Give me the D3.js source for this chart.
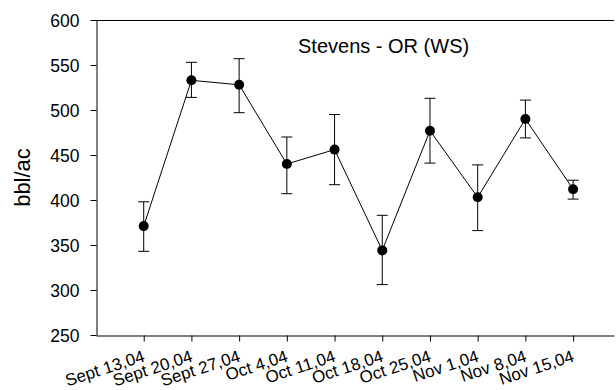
<!DOCTYPE html>
<html>
<head>
<meta charset="utf-8">
<script src="https://cdnjs.cloudflare.com/ajax/libs/d3/7.8.5/d3.min.js"></script>
<style>
  body { margin: 0; background: #fff; }
  text { font-family: "Liberation Sans", Arial, sans-serif; fill: #000; }
</style>
</head>
<body>
<div class="chart"></div>
<script>
var labels = ["Sept 13,04", "Sept 20,04", "Sept 27,04", "Oct 4,04", "Oct 11,04",
              "Oct 18,04", "Oct 25,04", "Nov 1,04", "Nov 8,04", "Nov 15,04"];
var dates = ["2004-09-13", "2004-09-20", "2004-09-27", "2004-10-04", "2004-10-11",
             "2004-10-18", "2004-10-25", "2004-11-01", "2004-11-08", "2004-11-15"];
var means = [371, 533, 528, 440, 456, 344, 477, 403, 490, 412];
var upper = [398, 553, 557, 470, 495, 383, 513, 439, 511, 422];
var lower = [343, 514, 497, 407, 417, 306, 441, 366, 469, 401];
var yTicks = [250, 300, 350, 400, 450, 500, 550, 600];

var parse = d3.timeParse("%Y-%m-%d");
var data = dates.map(function(d, i) {
    return { date: parse(d), label: labels[i], mean: means[i], hi: upper[i], lo: lower[i] };
});

var pLeft = 96, pRight = 614, pTop = 20, pBottom = 335;

var svg = d3.select(".chart")
    .append("svg")
    .attr("width", 616)
    .attr("height", 390);

var x = d3.scaleTime()
    .domain([parse("2004-09-06"), parse("2004-11-21")])
    .range([pLeft, pRight]);

var y = d3.scaleLinear()
    .domain([250, 600])
    .range([pBottom, pTop]);

// top frame line
svg.append("line")
    .attr("x1", pLeft).attr("x2", pRight)
    .attr("y1", pTop + 0.5).attr("y2", pTop + 0.5)
    .style("stroke", "#000");

var yAxis = svg.append("g")
    .attr("transform", "translate(" + (pLeft + 0.5) + ",0)")
    .call(d3.axisLeft(y).tickValues(yTicks).tickSize(6).tickPadding(11).tickSizeOuter(0));

yAxis.selectAll("text").style("font-size", "17.5px").attr("dy", "0.36em");

var xAxis = svg.append("g")
    .attr("transform", "translate(0," + (pBottom + 0.5) + ")")
    .call(d3.axisBottom(x).tickValues(data.map(function(d) { return d.date; }))
        .tickSize(6).tickSizeOuter(0).tickFormat(""));

svg.selectAll(".domain, .tick line").style("stroke", "#000");

svg.selectAll(".xlab")
    .data(data)
    .enter().append("text")
    .attr("class", "xlab")
    .attr("text-anchor", "end")
    .attr("transform", function(d) { return "translate(" + (x(d.date) + 2) + ",361) rotate(-18)"; })
    .style("font-size", "17px")
    .text(function(d) { return d.label; });

svg.append("text")
    .attr("transform", "translate(30," + ((pTop + pBottom) / 2) + ") rotate(-90)")
    .attr("text-anchor", "middle")
    .style("font-size", "22px")
    .text("bbl/ac");

svg.append("text")
    .attr("x", 298)
    .attr("y", 53)
    .style("font-size", "20px")
    .text("Stevens - OR (WS)");

// error bars
var err = svg.selectAll(".err")
    .data(data)
    .enter().append("g")
    .attr("class", "err")
    .style("stroke", "#000")
    .style("stroke-width", 1);

err.append("line")
    .attr("x1", function(d) { return x(d.date); })
    .attr("x2", function(d) { return x(d.date); })
    .attr("y1", function(d) { return y(d.hi); })
    .attr("y2", function(d) { return y(d.lo); });

err.append("line")
    .attr("x1", function(d) { return x(d.date) - 5.5; })
    .attr("x2", function(d) { return x(d.date) + 5.5; })
    .attr("y1", function(d) { return y(d.hi); })
    .attr("y2", function(d) { return y(d.hi); });

err.append("line")
    .attr("x1", function(d) { return x(d.date) - 5.5; })
    .attr("x2", function(d) { return x(d.date) + 5.5; })
    .attr("y1", function(d) { return y(d.lo); })
    .attr("y2", function(d) { return y(d.lo); });

var line = d3.line()
    .x(function(d) { return x(d.date); })
    .y(function(d) { return y(d.mean); });

svg.append("path")
    .datum(data)
    .attr("d", line)
    .style("fill", "none")
    .style("stroke", "#000")
    .style("stroke-width", 1);

svg.selectAll(".dot")
    .data(data)
    .enter().append("circle")
    .attr("class", "dot")
    .attr("cx", function(d) { return x(d.date); })
    .attr("cy", function(d) { return y(d.mean); })
    .attr("r", 5)
    .style("fill", "#000");
</script>
</body>
</html>
